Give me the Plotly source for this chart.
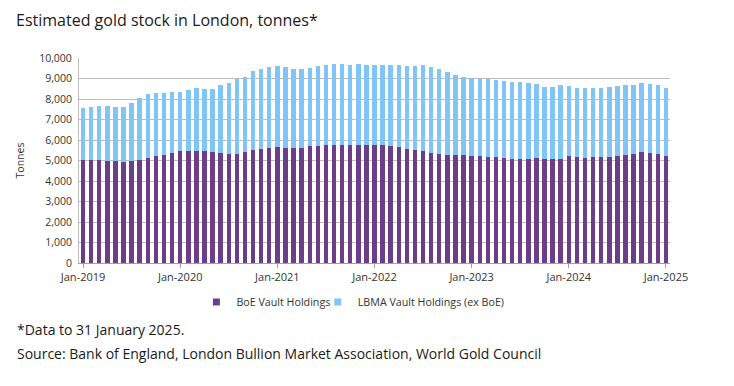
import plotly.graph_objects as go

months = ["Jan", "Feb", "Mar", "Apr", "May", "Jun", "Jul", "Aug", "Sep", "Oct", "Nov", "Dec"]
dates = [f"{m}-{y}" for y in range(2019, 2025) for m in months] + ["Jan-2025"]

boe = [5033, 5033, 5049, 5000, 4967, 4951, 4967, 5033, 5131, 5229, 5278, 5359,
       5441, 5458, 5458, 5441, 5392, 5359, 5327, 5327, 5408, 5523, 5572, 5605,
       5637, 5621, 5605, 5621, 5686, 5719, 5752, 5768, 5768, 5752, 5768, 5768,
       5752, 5735, 5686, 5654, 5572, 5523, 5441, 5376, 5327, 5261, 5245, 5245,
       5229, 5212, 5180, 5180, 5131, 5065, 5082, 5082, 5098, 5082, 5065, 5082,
       5196, 5163, 5131, 5147, 5163, 5163, 5229, 5278, 5327, 5392, 5359, 5327,
       5229]

total = [7549, 7631, 7680, 7647, 7614, 7598, 7827, 8039, 8252, 8284, 8284, 8333,
         8366, 8448, 8513, 8480, 8480, 8693, 8791, 8971, 9085, 9363, 9461, 9542,
         9600, 9557, 9459, 9443, 9525, 9590, 9656, 9721, 9705, 9656, 9705, 9639,
         9639, 9656, 9672, 9672, 9623, 9623, 9639, 9557, 9443, 9311, 9180, 9066,
         9049, 8967, 8967, 8934, 8902, 8852, 8852, 8770, 8721, 8590, 8574, 8689,
         8623, 8541, 8541, 8525, 8525, 8607, 8639, 8672, 8672, 8770, 8721, 8689,
         8525]

lbma = [t - b for t, b in zip(total, boe)]

tick_labels = ["Jan-2019", "Jan-2020", "Jan-2021", "Jan-2022", "Jan-2023", "Jan-2024", "Jan-2025"]
y_ticks = list(range(0, 10001, 1000))

BOE_COLOR = "#6b3e87"
LBMA_COLOR = "#80c5f6"
FONT = "Open Sans, Noto Sans, sans-serif"

# page has an 8px body margin; figure sized to fit the window
OFF = 8
W, H = 734 - 2 * OFF, 386 - 2 * OFF
L, T = 76 - OFF, 58 - OFF
R = W - (670 - OFF)
B = H - (263 - OFF)
ph = H - T - B
pw = W - L - R

def px(x):  # window pixel -> paper x
    return (x - OFF - L) / pw

def py(y):  # window pixel -> paper y
    return (H - B - (y - OFF)) / ph

fig = go.Figure()
fig.add_trace(go.Bar(x=dates, y=boe, name="BoE Vault Holdings", showlegend=False,
                     marker=dict(color=BOE_COLOR, line=dict(width=0))))
fig.add_trace(go.Bar(x=dates, y=lbma, name="LBMA Vault Holdings (ex BoE)", showlegend=False,
                     marker=dict(color=LBMA_COLOR, line=dict(width=0))))
# legend entries with small square swatches
fig.add_trace(go.Scatter(x=[None], y=[None], mode="markers", name="BoE Vault Holdings",
                         legend="legend",
                         marker=dict(symbol="square", size=7, color=BOE_COLOR)))
fig.add_trace(go.Scatter(x=[None], y=[None], mode="markers", name="LBMA Vault Holdings (ex BoE)",
                         legend="legend2",
                         marker=dict(symbol="square", size=7, color=LBMA_COLOR)))

legend_common = dict(orientation="h", xanchor="left", y=py(302), yanchor="middle",
                     font=dict(size=10.7, color="#333333"), bgcolor="rgba(0,0,0,0)")

fig.update_layout(
    width=W, height=H,
    barmode="stack", bargap=0.45,
    margin=dict(l=L, r=R, t=T, b=B, pad=0),
    paper_bgcolor="white", plot_bgcolor="white",
    font=dict(family=FONT, size=10, color="#333333"),
    showlegend=True,
    legend=dict(x=px(194), **legend_common),
    legend2=dict(x=px(316), **legend_common),
    xaxis=dict(type="category", categoryorder="array", categoryarray=dates,
               range=[-0.5, len(dates) - 0.5],
               tickmode="array", tickvals=tick_labels, ticktext=tick_labels,
               ticks="outside", ticklen=4, tickcolor="#a0a0a0",
               showline=True, linecolor="#a0a0a0", linewidth=1,
               showgrid=False, tickfont=dict(size=11, color="#333333")),
    yaxis=dict(range=[0, 10000], tickvals=y_ticks, tickformat=",d",
               showgrid=True, gridcolor="#bdbdbd", gridwidth=1.2,
               showline=True, linecolor="#bdbdbd", linewidth=1,
               ticks="", zeroline=False, ticklabelstandoff=4,
               title=dict(text="Tonnes", font=dict(size=10.5, color="#333333"), standoff=12),
               tickfont=dict(size=10.5, color="#333333")),
)

fig.add_annotation(xref="paper", yref="paper", x=px(12), y=py(OFF), xanchor="left", yanchor="top",
                   text="Estimated gold stock in London, tonnes*", showarrow=False, borderpad=0,
                   font=dict(size=16, color="#1a1a1a", family=FONT))
fig.add_annotation(xref="paper", yref="paper", x=px(12), y=py(329), xanchor="left", yanchor="middle",
                   text="*Data to 31 January 2025.", showarrow=False,
                   font=dict(size=14, color="#1a1a1a", family=FONT))
fig.add_annotation(xref="paper", yref="paper", x=px(12), y=py(353), xanchor="left", yanchor="middle",
                   text="Source: Bank of England, London Bullion Market Association, World Gold Council",
                   showarrow=False, font=dict(size=14, color="#1a1a1a", family=FONT))

fig.write_html("out.html")
